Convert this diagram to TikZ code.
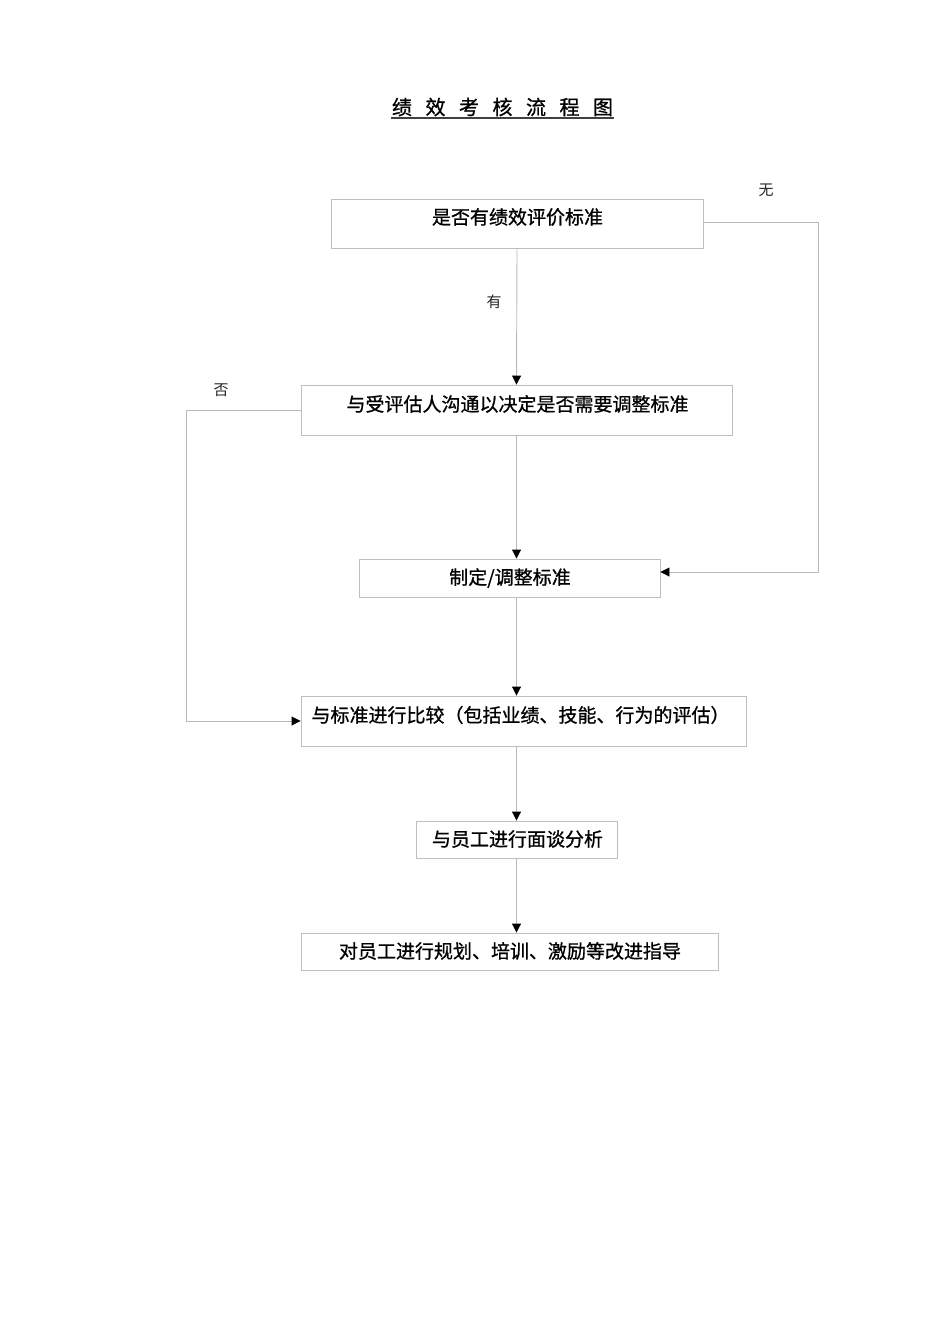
\documentclass[tikz,border=0pt]{standalone}
\usepackage{fontspec}
\newfontfamily\cjk{Noto Sans CJK SC}
\newfontfamily\cjkb[FakeBold=0.9]{Noto Sans CJK SC}
\usetikzlibrary{arrows.meta}
\definecolor{boxgray}{RGB}{190,190,190}
\definecolor{linegray}{RGB}{185,185,185}
\tikzset{
  box/.style={draw=boxgray, line width=0.9pt, rectangle, inner sep=0pt},
  txt/.style={font=\cjkb\fontsize{19}{22}\selectfont, inner sep=0pt, anchor=center},
  lbl/.style={font=\cjk\fontsize{15}{18}\selectfont, inner sep=0pt, text=black!85},
  conn/.style={draw=linegray, line width=0.9pt, -{Triangle[length=9pt,width=9pt,black]}},
}
\begin{document}
\begin{tikzpicture}[x=1pt,y=-1pt]
\useasboundingbox[fill=white] (0,0) rectangle (950,1344);
% title
\node[font=\cjkb\fontsize{20}{24}\selectfont, inner sep=0pt] (title) at (502.5,107)
  {绩\hspace{13.5pt}效\hspace{13.5pt}考\hspace{13.5pt}核\hspace{13.5pt}流\hspace{13.5pt}程\hspace{13.5pt}图};
\draw[line width=1.2pt, black!75] (391,118) -- (614,118);
% boxes
\node[box, minimum width=372pt, minimum height=49pt] (b1) at (517,223.5) {};
\node[box, minimum width=431pt, minimum height=50pt] (b2) at (516.5,410) {};
\node[box, minimum width=301pt, minimum height=38pt] (b3) at (509.5,578) {};
\node[box, minimum width=445pt, minimum height=50pt] (b4) at (523.5,721) {};
\node[box, minimum width=201pt, minimum height=37pt] (b5) at (516.5,839.5) {};
\node[box, minimum width=417pt, minimum height=37pt] (b6) at (509.5,951.5) {};
% texts
\node[txt] (t1) at (517.5,217) {是否有绩效评价标准};
\node[txt] (t2) at (517.5,404) {与受评估人沟通以决定是否需要调整标准};
\node[txt] (t3) at (510,578) {制定/调整标准};
\node[txt] (t4) at (520.5,715) {与标准进行比较（包括业绩、技能、行为的评估）};
\node[txt] (t5) at (517.5,839) {与员工进行面谈分析};
\node[txt] (t6) at (510,951) {对员工进行规划、培训、激励等改进指导};
% labels
\node[lbl] (lyou) at (494,302) {有};
\node[lbl] (lwu) at (766,190) {无};
\node[lbl] (lfou) at (221,390) {否};
% connectors
\draw[conn] (b1.south) -- (b2.north);
\draw[conn] (b2.south) -- (b2.south |- b3.north);
\draw[conn] (b2.south |- b3.south) -- (b2.south |- b4.north);
\draw[conn] (b2.south |- b4.south) -- (b2.south |- b5.north);
\draw[conn] (b5.south) -- (b5.south |- b6.north);
\coordinate (rc) at (818,0);
\draw[conn] ([yshift=1pt]b1.east) -| (rc |- 0,572) -- ([yshift=6pt]b3.east);
\coordinate (lc) at (186,0);
\draw[conn] (b2.west) -- (lc |- b2.west) -- (lc |- b4.west) -- (b4.west);
\end{tikzpicture}
\end{document}
